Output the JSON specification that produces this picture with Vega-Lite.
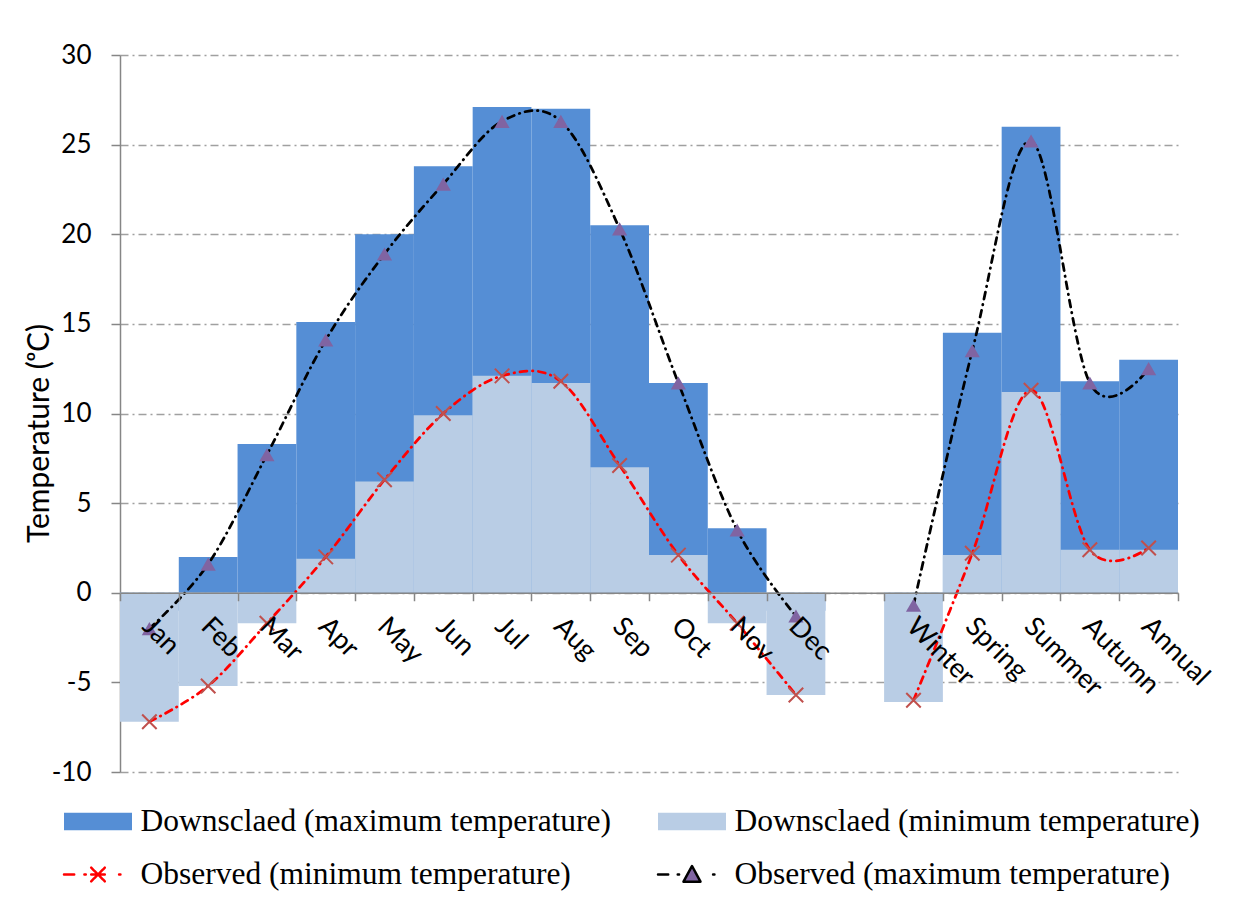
{
  "$schema": "https://vega.github.io/schema/vega-lite/v6.json",
  "width": 1058,
  "height": 717,
  "autosize": {"type": "none"},
  "padding": {"left": 120, "top": 55, "right": 60, "bottom": 131},
  "background": "white",
  "config": {"view": {"stroke": null}},
  "data": {
    "values": [
      {"c": "Jan", "p": "m", "DMax": -1.0, "DMin": -7.2, "OMin": -7.2, "OMax": -2.0},
      {"c": "Feb", "p": "m", "DMax": 2.0, "DMin": -5.2, "OMin": -5.2, "OMax": 1.6},
      {"c": "Mar", "p": "m", "DMax": 8.3, "DMin": -1.7, "OMin": -1.7, "OMax": 7.7},
      {"c": "Apr", "p": "m", "DMax": 15.1, "DMin": 1.9, "OMin": 2.0, "OMax": 14.1},
      {"c": "May", "p": "m", "DMax": 20.0, "DMin": 6.2, "OMin": 6.3, "OMax": 18.9},
      {"c": "Jun", "p": "m", "DMax": 23.8, "DMin": 9.9, "OMin": 10.0, "OMax": 22.8},
      {"c": "Jul", "p": "m", "DMax": 27.1, "DMin": 12.1, "OMin": 12.1, "OMax": 26.3},
      {"c": "Aug", "p": "m", "DMax": 27.0, "DMin": 11.7, "OMin": 11.8, "OMax": 26.3},
      {"c": "Sep", "p": "m", "DMax": 20.5, "DMin": 7.0, "OMin": 7.1, "OMax": 20.3},
      {"c": "Oct", "p": "m", "DMax": 11.7, "DMin": 2.1, "OMin": 2.1, "OMax": 11.7},
      {"c": "Nov", "p": "m", "DMax": 3.6, "DMin": -1.7, "OMin": -1.7, "OMax": 3.5},
      {"c": "Dec", "p": "m", "DMax": -1.0, "DMin": -5.7, "OMin": -5.7, "OMax": -1.3},
      {"c": "Winter", "p": "s", "DMax": -0.5, "DMin": -6.1, "OMin": -6.0, "OMax": -0.7},
      {"c": "Spring", "p": "s", "DMax": 14.5, "DMin": 2.1, "OMin": 2.2, "OMax": 13.5},
      {"c": "Summer", "p": "s", "DMax": 26.0, "DMin": 11.2, "OMin": 11.3, "OMax": 25.2},
      {"c": "Autumn", "p": "s", "DMax": 11.8, "DMin": 2.4, "OMin": 2.4, "OMax": 11.7},
      {"c": "Annual", "p": "s", "DMax": 13.0, "DMin": 2.4, "OMin": 2.5, "OMax": 12.5}
    ]
  },
  "encoding": {
    "x": {
      "field": "c",
      "type": "nominal",
      "scale": {
        "domain": ["Jan", "Feb", "Mar", "Apr", "May", "Jun", "Jul", "Aug", "Sep", "Oct", "Nov", "Dec", "gap", "Winter", "Spring", "Summer", "Autumn", "Annual"],
        "paddingInner": 0,
        "paddingOuter": 0
      },
      "axis": {
        "orient": "bottom",
        "offset": -179.25,
        "zindex": 1,
        "title": null,
        "domainColor": "#868686",
        "domainWidth": 1.5,
        "tickColor": "#868686",
        "tickWidth": 1.5,
        "tickSize": 8,
        "tickBand": "extent",
        "labelAngle": 45,
        "labelAlign": "left",
        "labelBaseline": "top",
        "labelPadding": 12,
        "labelOffset": 6,
        "labelFont": "Lato",
        "labelFontSize": 27,
        "labelColor": "black",
        "labelOverlap": false,
        "labelFlush": false,
        "labelBound": false,
        "labelExpr": "datum.value == 'gap' ? '' : datum.label"
      }
    },
    "y": {
      "field": "v",
      "type": "quantitative",
      "scale": {"domain": [-10, 30], "nice": false, "zero": false},
      "axis": {
        "values": [-10, -5, 0, 5, 10, 15, 20, 25, 30],
        "labelExpr": "toString(datum.value)",
        "grid": true,
        "gridColor": "#a0a0a0",
        "gridWidth": 1.5,
        "gridDash": [8, 4, 2, 4],
        "domainColor": "#868686",
        "domainWidth": 1.5,
        "tickColor": "#868686",
        "tickWidth": 1.5,
        "tickSize": 9,
        "labelPadding": 20,
        "labelFont": "Lato",
        "labelFontSize": 26,
        "labelColor": "black",
        "title": "Temperature (ᵒC)",
        "titleFont": "Lato",
        "titleFontSize": 30,
        "titleFontWeight": "normal",
        "titleColor": "black",
        "titleAngle": -90,
        "titleAlign": "center",
        "titleBaseline": "middle",
        "titleX": -81,
        "titleY": 378
      }
    }
  },
  "layer": [
    {
      "transform": [{"fold": ["DMax"], "as": ["s", "v"]}],
      "mark": {"type": "bar", "strokeWidth": 0},
      "encoding": {
        "color": {
          "field": "s",
          "type": "nominal",
          "scale": {
            "domain": ["DMax", "OMin", "DMin", "OMax"],
            "range": ["#558ed5", "#ff0000", "#b9cde5", "#8064a2"]
          },
          "legend": {
            "orient": "none",
            "legendX": -57.5,
            "legendY": 731,
            "title": null,
            "columns": 2,
            "columnPadding": 45,
            "rowPadding": 2,
            "padding": 0,
            "symbolSize": 4624,
            "symbolStrokeWidth": 2.5,
            "labelOffset": 7,
            "labelLimit": 0,
            "labelFont": "Liberation Serif",
            "labelFontSize": 31.5,
            "labelColor": "black",
            "labelExpr": "datum.value == 'DMax' ? 'Downsclaed (maximum temperature)' : datum.value == 'DMin' ? 'Downsclaed (minimum temperature)' : datum.value == 'OMin' ? 'Observed (minimum temperature)' : 'Observed (maximum temperature)'",
            "encode": {
              "symbols": {
                "update": {
                  "shape": {"signal": "datum.value == 'OMin' ? 'M-1,0H-0.7M-0.4,0H-0.36M-0.2,0H0.2M-0.2,-0.2L0.2,0.2M-0.2,0.2L0.2,-0.2M0.62,0H0.66' : datum.value == 'OMax' ? 'M-1,0H-0.7M-0.42,0H-0.38M0.62,0H0.66M0,-0.25L0.25,0.21L-0.25,0.21Z' : 'M-1,-0.26H1V0.26H-1Z'"},
                  "fill": {"signal": "datum.value == 'DMax' ? '#558ed5' : datum.value == 'DMin' ? '#b9cde5' : datum.value == 'OMax' ? '#8064a2' : 'transparent'"},
                  "stroke": {"signal": "datum.value == 'OMin' ? '#ff0000' : datum.value == 'OMax' ? '#000000' : 'transparent'"},
                  "strokeWidth": {"value": 2.5},
                  "strokeCap": {"value": "round"},
                  "strokeJoin": {"value": "round"},
                  "strokeDash": {"value": [1, 0]},
                  "size": {"value": 4624},
                  "opacity": {"value": 1},
                  "fillOpacity": {"value": 1},
                  "strokeOpacity": {"value": 1}
                }
              }
            }
          }
        }
      }
    },
    {
      "transform": [{"fold": ["DMin"], "as": ["s", "v"]}],
      "mark": {"type": "bar", "strokeWidth": 0},
      "encoding": {"color": {"field": "s", "type": "nominal"}}
    },
    {
      "transform": [{"fold": ["OMin"], "as": ["s", "v"]}],
      "mark": {"type": "line", "interpolate": "cardinal", "color": "#ff0000", "strokeWidth": 2.75, "strokeDash": [7, 5.5, 0.5, 5.5], "strokeCap": "round"},
      "encoding": {
        "detail": {"field": "p", "type": "nominal"},
        "order": {"value": null}
      }
    },
    {
      "transform": [{"fold": ["OMax"], "as": ["s", "v"]}],
      "mark": {"type": "line", "interpolate": "cardinal", "color": "#000000", "strokeWidth": 2.75, "strokeDash": [7, 5.5, 0.5, 5.5], "strokeCap": "round"},
      "encoding": {
        "detail": {"field": "p", "type": "nominal"},
        "order": {"value": null}
      }
    },
    {
      "transform": [{"fold": ["OMin"], "as": ["s", "v"]}],
      "mark": {"type": "point", "shape": "M-1,-1L1,1M-1,1L1,-1", "size": 210, "filled": false, "stroke": "#c0504d", "strokeWidth": 2, "opacity": 1}
    },
    {
      "transform": [{"fold": ["OMax"], "as": ["s", "v"]}],
      "mark": {"type": "point", "shape": "triangle-up", "size": 230, "filled": true, "color": "#8064a2", "strokeWidth": 0, "opacity": 1}
    }
  ]
}
